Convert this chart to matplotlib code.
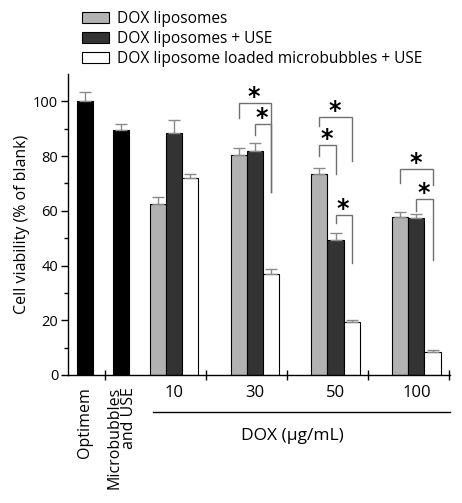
import matplotlib
matplotlib.use("Agg")
import matplotlib.pyplot as plt
import numpy as np
from matplotlib.patches import Patch

# ---- data ----
control_labels = ["Optimem", "Microbubbles\nand USE"]
control_values = [100.0, 89.7]
control_errors = [3.4, 2.1]

doses = ["10", "30", "50", "100"]
series_names = ["DOX liposomes", "DOX liposomes + USE",
                "DOX liposome loaded microbubbles + USE"]
lipo = [62.5, 80.5, 73.5, 57.6]
lipo_err = [2.7, 2.5, 2.1, 2.1]
lipo_use = [88.5, 81.7, 49.5, 57.3]
lipo_use_err = [4.6, 3.2, 2.5, 1.4]
mb_use = [72.0, 36.9, 19.5, 8.4]
mb_use_err = [1.6, 1.8, 0.6, 0.6]

# significance brackets: (dose index, left series, right series, top, left leg bottom, right leg bottom)
brackets = [
    (1, 0, 2, 99.3, 94.0, 66.7),
    (1, 1, 2, 91.6, 87.7, 66.7),
    (2, 0, 2, 94.2, 90.9, 78.1),
    (2, 0, 1, 84.0, 80.0, 73.3),
    (2, 1, 2, 58.6, 55.7, 41.0),
    (3, 0, 2, 75.1, 70.0, 69.6),
    (3, 1, 2, 64.4, 59.8, 42.1),
]

FONT = ["Open Sans", "DejaVu Sans"]
plt.rcParams["font.family"] = FONT
plt.rcParams["mathtext.fontset"] = "dejavusans"

fig = plt.figure(figsize=(4.62, 5.03), dpi=100)
ax = fig.add_axes([0.147, 0.2545, 0.827, 0.5984])

W = 0.2
ctrl_x = np.array([0.9, 1.35])
grp_x = np.arange(len(doses)) + 2.0
colors = ["#b2b2b2", "#333333", "#ffffff"]
ekw = dict(ecolor="#8a8a8a", elinewidth=1.0, capsize=4, capthick=1.0)

ax.bar(ctrl_x, control_values, W, color="black", edgecolor="black", linewidth=0.8,
       yerr=[np.zeros(2), control_errors], error_kw=ekw, zorder=2)

series = [(lipo, lipo_err), (lipo_use, lipo_use_err), (mb_use, mb_use_err)]
for i, (vals, errs) in enumerate(series):
    xs = grp_x + (i - 1) * W
    ax.bar(xs, vals, W, color=colors[i], edgecolor="black", linewidth=0.8,
           yerr=[np.zeros(len(vals)), errs], error_kw=ekw, zorder=2,
           label=series_names[i])

# brackets
for g, a, b, top, lb, rb in brackets:
    xl = grp_x[g] + (a - 1) * W
    xr = grp_x[g] + (b - 1) * W
    ax.plot([xl, xl, xr, xr], [lb, top, top, rb], color="#707070", lw=1.0,
            zorder=3, solid_joinstyle="miter")
    ax.text((xl + xr) / 2 - 0.01, top + 2.6, r"$\mathbf{*}$", ha="center",
            va="center", fontsize=17, zorder=4)

ax.set_xlim(0.688, 5.416)
ax.set_ylim(0, 110)
ax.set_yticks([0, 20, 40, 60, 80, 100])
ax.set_yticks([10, 30, 50, 70, 90], minor=True)
ax.tick_params(axis="y", which="major", direction="out", length=5, width=1,
               labelsize=10.5, pad=2)
ax.tick_params(axis="y", which="minor", direction="out", length=3, width=1)

ax.set_xticks([1.15, 2.4, 3.4, 4.4, 5.4])
ax.set_xticklabels([])
ax.tick_params(axis="x", which="major", direction="inout", length=7, width=1)
ax.set_xticks(grp_x, minor=True)
ax.set_xticklabels(doses, minor=True, fontsize=12)
ax.tick_params(axis="x", which="minor", length=0, pad=7)

for s in ["top", "right"]:
    ax.spines[s].set_visible(False)
for s in ["left", "bottom"]:
    ax.spines[s].set_linewidth(1.0)

tr = ax.get_xaxis_transform()
for x, lab in zip(ctrl_x, control_labels):
    ax.text(x, -0.04, lab, rotation=90, ha="center", va="top",
            multialignment="right", fontsize=11.5, transform=tr, linespacing=0.85)

ax.plot([1.74, 5.416], [-0.122, -0.122], color="black", lw=1.0,
        transform=tr, clip_on=False)
ax.text(3.46, -0.203, "DOX (µg/mL)", ha="center", va="center", fontsize=12.5,
        transform=tr)

ax.set_ylabel("Cell viability (% of blank)", fontsize=11.5, labelpad=2)

handles = [Patch(facecolor=c, edgecolor="black", linewidth=0.8) for c in colors]
fig.legend(handles, series_names, loc="upper left",
           bbox_to_anchor=(0.178, 0.978), frameon=False, fontsize=11.2,
           handlelength=1.75, handleheight=0.75, labelspacing=0.25,
           handletextpad=0.5, borderaxespad=0, borderpad=0)

fig.savefig("out.png", dpi=100)
